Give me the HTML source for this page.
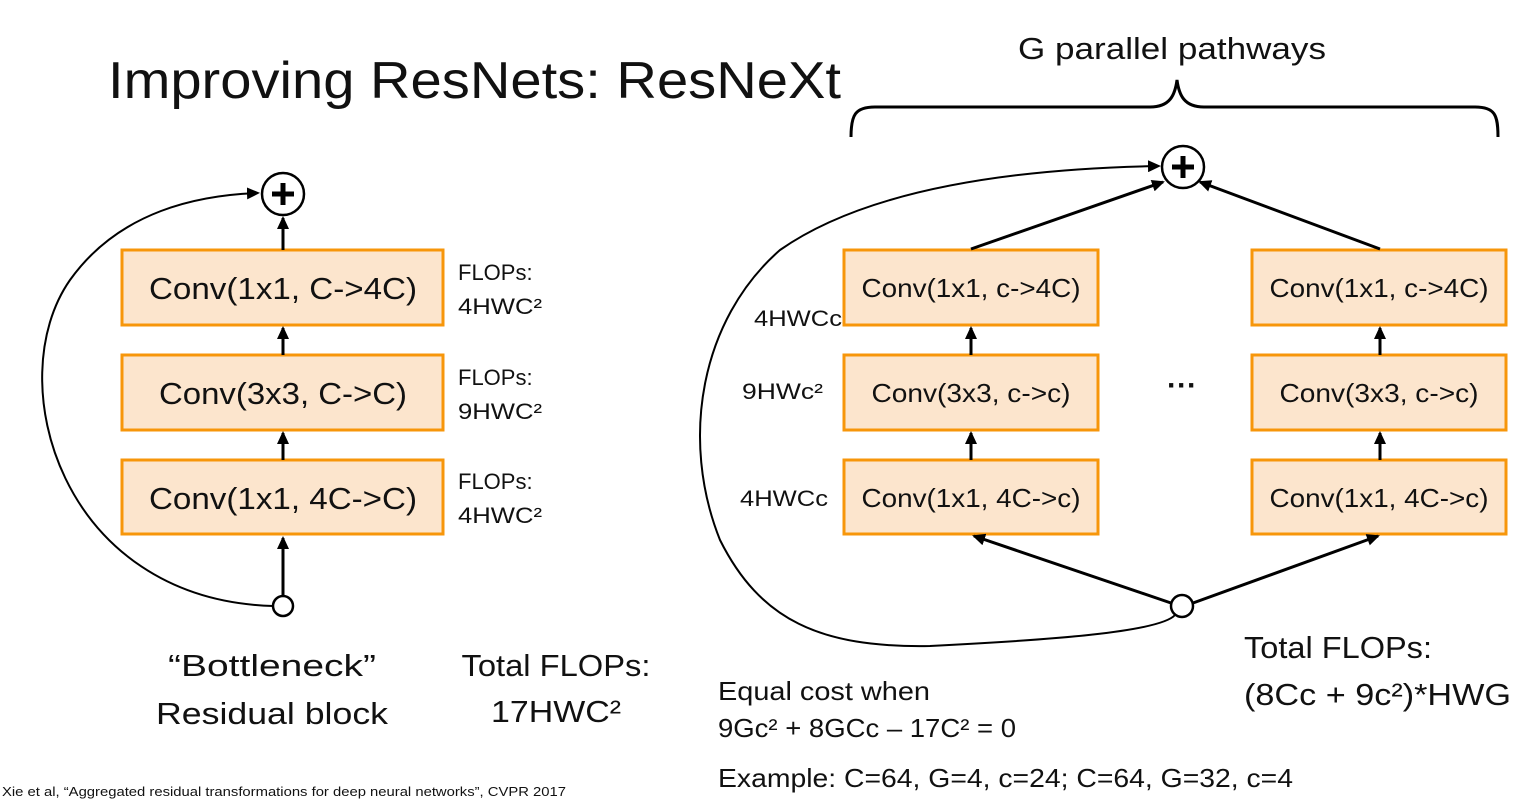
<!DOCTYPE html>
<html><head><style>
html,body{margin:0;padding:0;background:#fff;}
svg{display:block;}
text{font-family:"Liberation Sans",sans-serif;fill:#111;}
</style></head><body>
<svg width="1531" height="803" viewBox="0 0 1531 803" xmlns="http://www.w3.org/2000/svg">
<defs>
<marker id="a" markerWidth="13" markerHeight="12" refX="11" refY="6" orient="auto" markerUnits="userSpaceOnUse">
<path d="M0,0 L13,6 L0,12 z" fill="#000"/></marker>
</defs>
<text x="108" y="98" font-size="52" textLength="733" lengthAdjust="spacingAndGlyphs">Improving ResNets: ResNeXt</text>
<text x="1018" y="59" font-size="31" textLength="308" lengthAdjust="spacingAndGlyphs">G parallel pathways</text>
<path d="M851,137 C851,115 855,107 875,107 L1150,107 C1170,107 1175,95 1177,80 C1179,95 1184,107 1204,107 L1475,107 C1495,107 1498,115 1498,137" fill="none" stroke="#000" stroke-width="3"/>
<g fill="#fce5cd" stroke="#f7960a" stroke-width="3">
<rect x="122" y="250" width="321" height="75"/>
<rect x="122" y="355" width="321" height="75"/>
<rect x="122" y="460" width="321" height="74"/>
<rect x="844" y="250" width="254" height="75"/>
<rect x="844" y="355" width="254" height="75"/>
<rect x="844" y="460" width="254" height="74"/>
<rect x="1252" y="250" width="254" height="75"/>
<rect x="1252" y="355" width="254" height="75"/>
<rect x="1252" y="460" width="254" height="74"/>
</g>
<g stroke="#000" stroke-width="3" fill="none">
<line x1="283" y1="595" x2="283" y2="538" marker-end="url(#a)"/>
<line x1="283" y1="460" x2="283" y2="433" marker-end="url(#a)"/>
<line x1="283" y1="355" x2="283" y2="328" marker-end="url(#a)"/>
<line x1="283" y1="250" x2="283" y2="218" marker-end="url(#a)"/>
<path d="M273,606 C60,600 0,380 70,280 C120,210 200,195 258,193" stroke-width="2" marker-end="url(#a)"/>
<line x1="971" y1="460" x2="971" y2="433" marker-end="url(#a)"/>
<line x1="971" y1="355" x2="971" y2="328" marker-end="url(#a)"/>
<line x1="1380" y1="460" x2="1380" y2="433" marker-end="url(#a)"/>
<line x1="1380" y1="355" x2="1380" y2="328" marker-end="url(#a)"/>
<line x1="971" y1="249" x2="1163" y2="182" marker-end="url(#a)"/>
<line x1="1380" y1="249" x2="1200" y2="182" marker-end="url(#a)"/>
<line x1="1171" y1="603" x2="974" y2="536" marker-end="url(#a)"/>
<line x1="1193" y1="603" x2="1378" y2="536" marker-end="url(#a)"/>
<path d="M1175,615 C1160,632 1050,640 930,646 C820,648 760,620 720,540 C680,440 700,320 780,250 C880,180 1050,168 1159,166" stroke-width="2" marker-end="url(#a)"/>
</g>
<g stroke="#000" stroke-width="2.5" fill="#fff">
<circle cx="283" cy="194" r="21"/>
<circle cx="283" cy="606" r="10"/>
<circle cx="1183" cy="167" r="21"/>
<circle cx="1182" cy="606" r="11"/>
</g>
<g stroke="#000" stroke-width="5">
<line x1="272" y1="194" x2="294" y2="194"/><line x1="283" y1="183" x2="283" y2="205"/>
<line x1="1172" y1="167" x2="1194" y2="167"/><line x1="1183" y1="156" x2="1183" y2="178"/>
</g>
<g font-size="31" text-anchor="middle">
<text x="283" y="299" textLength="268" lengthAdjust="spacingAndGlyphs">Conv(1x1, C-&gt;4C)</text>
<text x="283" y="404" textLength="248" lengthAdjust="spacingAndGlyphs">Conv(3x3, C-&gt;C)</text>
<text x="283" y="509" textLength="268" lengthAdjust="spacingAndGlyphs">Conv(1x1, 4C-&gt;C)</text>
</g>
<g font-size="26" text-anchor="middle">
<text x="971" y="297" textLength="219" lengthAdjust="spacingAndGlyphs">Conv(1x1, c-&gt;4C)</text>
<text x="971" y="402" textLength="199" lengthAdjust="spacingAndGlyphs">Conv(3x3, c-&gt;c)</text>
<text x="971" y="507" textLength="219" lengthAdjust="spacingAndGlyphs">Conv(1x1, 4C-&gt;c)</text>
<text x="1379" y="297" textLength="219" lengthAdjust="spacingAndGlyphs">Conv(1x1, c-&gt;4C)</text>
<text x="1379" y="402" textLength="199" lengthAdjust="spacingAndGlyphs">Conv(3x3, c-&gt;c)</text>
<text x="1379" y="507" textLength="219" lengthAdjust="spacingAndGlyphs">Conv(1x1, 4C-&gt;c)</text>
</g>
<text x="1182" y="395" font-size="30" text-anchor="middle" font-weight="bold">···</text>
<g font-size="22">
<text x="458" y="280">FLOPs:</text><text x="458" y="314" textLength="84" lengthAdjust="spacingAndGlyphs">4HWC²</text>
<text x="458" y="385">FLOPs:</text><text x="458" y="419" textLength="84" lengthAdjust="spacingAndGlyphs">9HWC²</text>
<text x="458" y="489">FLOPs:</text><text x="458" y="523" textLength="84" lengthAdjust="spacingAndGlyphs">4HWC²</text>
<text x="754" y="326" textLength="88" lengthAdjust="spacingAndGlyphs">4HWCc</text>
<text x="742" y="399" textLength="81" lengthAdjust="spacingAndGlyphs">9HWc²</text>
<text x="740" y="506" textLength="88" lengthAdjust="spacingAndGlyphs">4HWCc</text>
</g>
<g font-size="31" text-anchor="middle">
<text x="272" y="676" textLength="208" lengthAdjust="spacingAndGlyphs">“Bottleneck”</text>
<text x="272" y="724" textLength="232" lengthAdjust="spacingAndGlyphs">Residual block</text>
<text x="556" y="676" textLength="189" lengthAdjust="spacingAndGlyphs">Total FLOPs:</text>
<text x="556" y="722" textLength="130" lengthAdjust="spacingAndGlyphs">17HWC²</text>
</g>
<g font-size="31">
<text x="1244" y="658" textLength="188" lengthAdjust="spacingAndGlyphs">Total FLOPs:</text>
<text x="1244" y="705" textLength="267" lengthAdjust="spacingAndGlyphs">(8Cc + 9c²)*HWG</text>
</g>
<g font-size="26">
<text x="718" y="700" textLength="212" lengthAdjust="spacingAndGlyphs">Equal cost when</text>
<text x="718" y="737" textLength="298" lengthAdjust="spacingAndGlyphs">9Gc² + 8GCc – 17C² = 0</text>
<text x="718" y="787" textLength="575" lengthAdjust="spacingAndGlyphs">Example: C=64, G=4, c=24;  C=64, G=32, c=4</text>
</g>
<text x="2" y="796" font-size="13" textLength="564" lengthAdjust="spacingAndGlyphs">Xie et al, “Aggregated residual transformations for deep neural networks”, CVPR 2017</text>
</svg>
</body></html>
